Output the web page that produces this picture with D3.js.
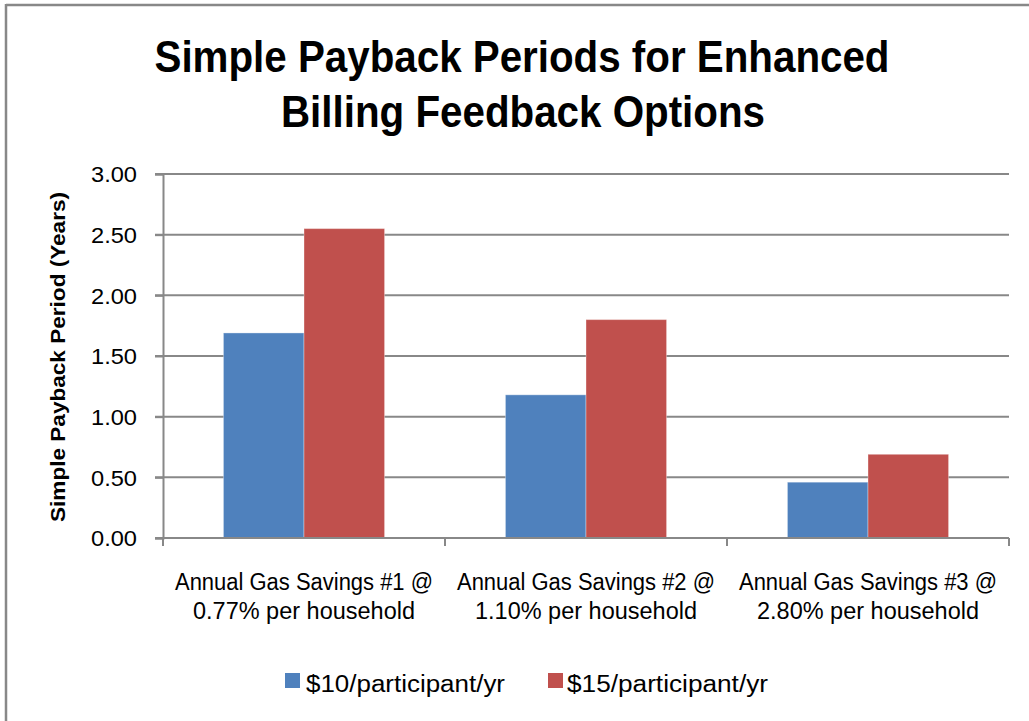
<!DOCTYPE html>
<html>
<head>
<meta charset="utf-8">
<script src="https://cdn.jsdelivr.net/npm/d3@7"></script>
<style>
  html, body { margin: 0; padding: 0; background: #fff; }
  svg { display: block; }
  text { font-family: "Liberation Sans", Arial, sans-serif; fill: #000; }
</style>
</head>
<body>
<svg id="chart" width="1029" height="721"></svg>
<script>
// ---- data ----
const titleLines = ["Simple Payback Periods for Enhanced", "Billing Feedback Options"];
const yAxisTitle = "Simple Payback Period (Years)";
const categories = ["cat1", "cat2", "cat3"];
const categoryLine1 = ["Annual Gas Savings #1 @", "Annual Gas Savings #2 @", "Annual Gas Savings #3 @"];
const categoryLine2 = ["0.77% per household", "1.10% per household", "2.80% per household"];
const seriesNames = ["$10/participant/yr", "$15/participant/yr"];
const series10 = [1.69, 1.18, 0.46];
const series15 = [2.55, 1.80, 0.69];
const yTicks = [0, 0.5, 1.0, 1.5, 2.0, 2.5, 3.0];
const seriesColors = ["#4f81bd", "#c0504d"];

// ---- layout ----
const svg = d3.select("#chart");
const plot = { left: 163, right: 1009, top: 174, bottom: 538 };
const gridColor = "#888888";

// outer border (only top and left visible in reference)
svg.append("line").attr("x1", 6).attr("x2", 1029).attr("y1", 5).attr("y2", 5)
  .attr("stroke", gridColor).attr("stroke-width", 2.5);
svg.append("line").attr("x1", 6).attr("x2", 6).attr("y1", 4).attr("y2", 721)
  .attr("stroke", gridColor).attr("stroke-width", 2.5);

const y = d3.scaleLinear().domain([0, 3]).range([plot.bottom, plot.top]);
const x = d3.scaleBand().domain(categories).range([plot.left, plot.right]).paddingInner(0).paddingOuter(0);
const xs = d3.scaleBand().domain([0, 1]).range([0, x.bandwidth()]).paddingInner(0).paddingOuter(0.75);

// gridlines
svg.append("g").selectAll("line").data(yTicks).join("line")
  .attr("x1", plot.left - 8).attr("x2", plot.right)
  .attr("y1", d => y(d)).attr("y2", d => y(d))
  .attr("stroke", gridColor).attr("stroke-width", 2);

// bars
const data = categories.map((c, i) => ({ c, vals: [series10[i], series15[i]] }));
const groups = svg.append("g").selectAll("g").data(data).join("g")
  .attr("transform", d => `translate(${x(d.c)},0)`);
groups.selectAll("rect").data(d => d.vals.map((v, j) => ({ v, j }))).join("rect")
  .attr("x", d => xs(d.j))
  .attr("width", xs.bandwidth())
  .attr("y", d => y(d.v))
  .attr("height", d => y(0) - y(d.v))
  .attr("fill", d => seriesColors[d.j])
  .attr("stroke", "rgba(255,255,255,0.35)")
  .attr("stroke-width", 1);

// y axis
const yAxis = d3.axisLeft(y).tickValues(yTicks).tickFormat(d3.format(".2f")).tickSize(8).tickPadding(18);
const yg = svg.append("g").attr("transform", `translate(${plot.left},0)`).call(yAxis);
yg.select(".domain").attr("stroke", gridColor).attr("stroke-width", 2);
yg.selectAll(".tick line").attr("stroke", gridColor).attr("stroke-width", 2);
yg.selectAll(".tick text").attr("font-size", 22).attr("fill", "#000")
  .style("font-family", "'Liberation Sans', Arial, sans-serif").attr("dy", "0.36em")
  .attr("textLength", 46).attr("lengthAdjust", "spacingAndGlyphs");

// x axis
const xAxisG = svg.append("g");
xAxisG.append("line").attr("x1", plot.left - 8).attr("x2", plot.right)
  .attr("y1", y(0)).attr("y2", y(0)).attr("stroke", gridColor).attr("stroke-width", 2);
const boundaries = categories.map(c => x(c)).concat([x(categories[categories.length - 1]) + x.bandwidth()]);
xAxisG.selectAll("line.tk").data(boundaries).join("line").attr("class", "tk")
  .attr("x1", d => d).attr("x2", d => d).attr("y1", y(0)).attr("y2", y(0) + 8)
  .attr("stroke", gridColor).attr("stroke-width", 2);

// category labels
const lbl = svg.append("g");
const l1 = lbl.selectAll("text.l1").data(categories).join("text").attr("class", "l1")
  .attr("x", c => x(c) + x.bandwidth() / 2).attr("y", 590)
  .attr("text-anchor", "middle").attr("font-size", 23.5)
  .text((c, i) => categoryLine1[i]);
const l2 = lbl.selectAll("text.l2").data(categories).join("text").attr("class", "l2")
  .attr("x", c => x(c) + x.bandwidth() / 2).attr("y", 619)
  .attr("text-anchor", "middle").attr("font-size", 23.5)
  .text((c, i) => categoryLine2[i]);
l1.attr("textLength", 258).attr("lengthAdjust", "spacingAndGlyphs");
l2.attr("textLength", 222).attr("lengthAdjust", "spacingAndGlyphs");

// title
const title = svg.append("g");
title.append("text").attr("x", 522).attr("y", 72).attr("text-anchor", "middle")
  .attr("font-size", 45).attr("font-weight", "bold")
  .attr("textLength", 735).attr("lengthAdjust", "spacingAndGlyphs")
  .text(titleLines[0]);
title.append("text").attr("x", 523).attr("y", 127).attr("text-anchor", "middle")
  .attr("font-size", 45).attr("font-weight", "bold")
  .attr("textLength", 484).attr("lengthAdjust", "spacingAndGlyphs")
  .text(titleLines[1]);

// y axis title
svg.append("text")
  .attr("transform", `translate(65,${(plot.top + plot.bottom) / 2 + 1}) rotate(-90)`)
  .attr("text-anchor", "middle").attr("font-size", 21).attr("font-weight", "bold")
  .attr("textLength", 330).attr("lengthAdjust", "spacingAndGlyphs")
  .text(yAxisTitle);

// legend
const legendItems = [
  { name: seriesNames[0], color: seriesColors[0], sx: 285, tx: 306, tw: 199 },
  { name: seriesNames[1], color: seriesColors[1], sx: 548, tx: 567, tw: 201 }
];
const lg = svg.append("g");
lg.selectAll("rect").data(legendItems).join("rect")
  .attr("x", d => d.sx).attr("y", 673).attr("width", 15).attr("height", 15)
  .attr("fill", d => d.color);
lg.selectAll("text").data(legendItems).join("text")
  .attr("x", d => d.tx).attr("y", 692).attr("font-size", 23.5)
  .attr("textLength", d => d.tw).attr("lengthAdjust", "spacingAndGlyphs")
  .text(d => d.name);
</script>
</body>
</html>
